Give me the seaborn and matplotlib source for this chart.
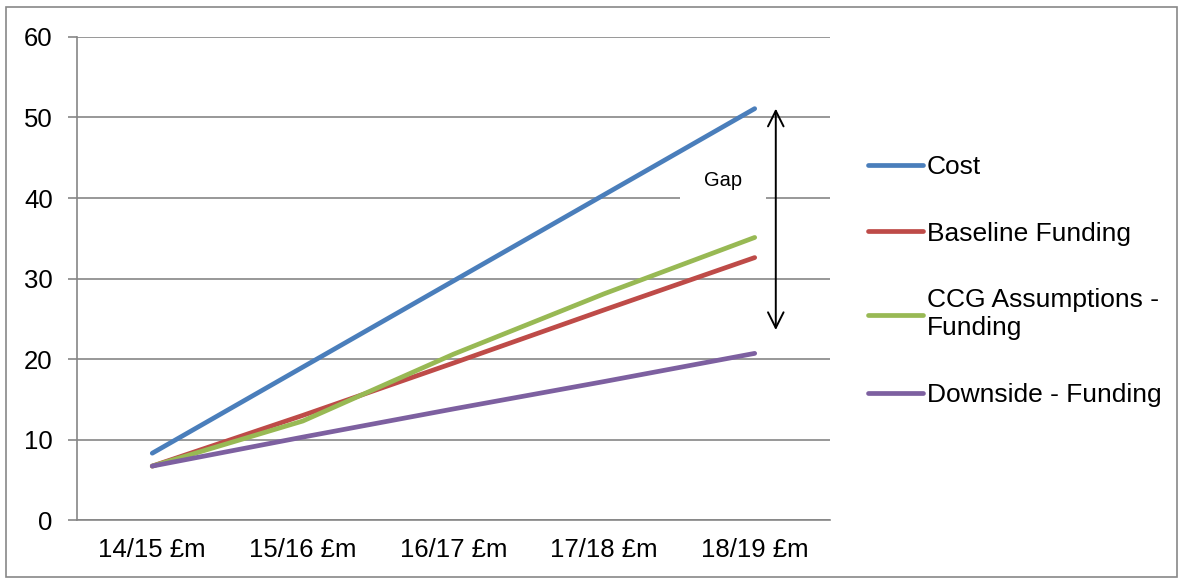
import pandas as pd
import seaborn as sns
import matplotlib.pyplot as plt
from matplotlib.patches import Rectangle
from matplotlib.ticker import FixedLocator

years = ['14/15 £m', '15/16 £m', '16/17 £m', '17/18 £m', '18/19 £m']
cost = [8.3, 19.0, 29.7, 40.4, 51.1]
baseline = [6.7, 13.0, 19.5, 26.1, 32.6]
ccg = [6.7, 12.3, 20.6, 28.1, 35.1]
downside = [6.7, 10.3, 13.8, 17.2, 20.7]

series_names = ['Cost', 'Baseline Funding', 'CCG Assumptions -\nFunding', 'Downside - Funding']
colors = ['#4A7EBB', '#BE4B48', '#98B954', '#7D60A0']

rows = []
for name, vals in zip(series_names, [cost, baseline, ccg, downside]):
    for yr, v in zip(years, vals):
        rows.append((yr, v, name))
df = pd.DataFrame(rows, columns=['year', 'value', 'series'])

sns.set_style('white')
plt.rcParams['font.family'] = ['Liberation Sans', 'DejaVu Sans']
plt.rcParams['text.color'] = 'black'
plt.rcParams['xtick.labelcolor'] = 'black'
plt.rcParams['ytick.labelcolor'] = 'black'

fig = plt.figure(figsize=(11.82, 5.78), dpi=100)
ax = fig.add_axes([0.0651, 0.1003, 0.6371, 0.8357])

sns.lineplot(data=df, x='year', y='value', hue='series', palette=colors,
             sort=False, lw=3.4, ax=ax, solid_capstyle='round', zorder=3)

grid_col = '#868686'
ax.set_xlim(-0.5, 4.5)
ax.set_ylim(0, 60)
ax.set_yticks(range(0, 61, 10))
ax.yaxis.grid(True, color=grid_col, lw=1.2)
ax.set_axisbelow(True)
ax.set_xlabel('')
ax.set_ylabel('')
for s in ['top', 'right']:
    ax.spines[s].set_visible(False)
for s in ['left', 'bottom']:
    ax.spines[s].set_color(grid_col)
    ax.spines[s].set_linewidth(1.2)

# x ticks sit between categories, labels at category centres
ax.xaxis.set_minor_locator(FixedLocator([i - 0.5 for i in range(6)]))
ax.tick_params(axis='x', which='major', length=0, pad=13, labelsize=18.5)
ax.tick_params(axis='x', which='minor', length=6, width=1.2, color=grid_col, direction='out')
ax.tick_params(axis='y', length=6.5, width=1.2, color=grid_col, direction='out',
               pad=11, labelsize=18.5, left=True)

# gap annotation
ax.annotate('', xy=(4.14, 51.1), xytext=(4.14, 23.6),
            arrowprops=dict(arrowstyle='<->', color='black', lw=1.4,
                            mutation_scale=28, shrinkA=0, shrinkB=0))
ax.text(3.79, 42.2, 'Gap', fontsize=14.5, ha='center', va='center', zorder=1,
        bbox=dict(boxstyle='square,pad=1.2', fc='white', ec='none'))

handles, labels = ax.get_legend_handles_labels()
ax.legend_.remove()
fig.legend(handles, labels, loc='center left', bbox_to_anchor=(0.734, 0.514),
           frameon=False, fontsize=19, handlelength=2.1, handletextpad=0.15,
           labelspacing=1.62, borderpad=0, borderaxespad=0)

fig.patches.append(Rectangle((6 / 1182, 1 / 578), 1171 / 1182, 570 / 578,
                             transform=fig.transFigure, fill=False,
                             ec='#888888', lw=1.2))

fig.savefig('out.png', dpi=100)
